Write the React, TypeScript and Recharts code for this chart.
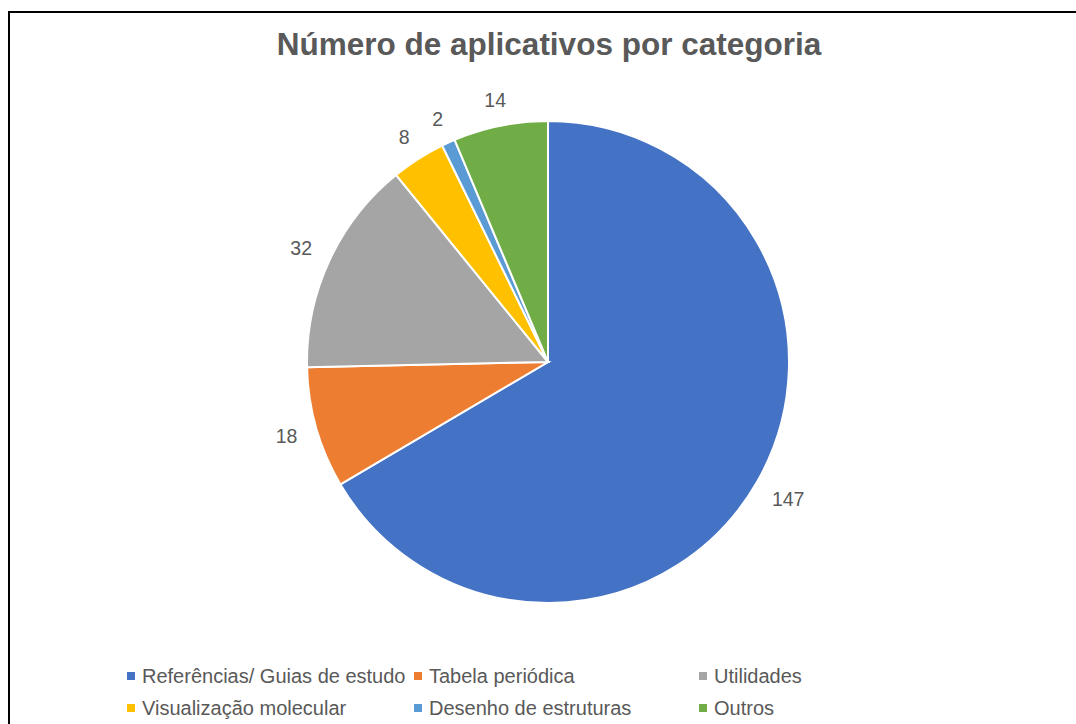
import React from "react";
import { PieChart, Pie, Cell, Legend } from "recharts";

const categories = [
  "Referências/ Guias de estudo",
  "Tabela periódica",
  "Utilidades",
  "Visualização molecular",
  "Desenho de estruturas",
  "Outros",
];
const counts = [147, 18, 32, 8, 2, 14];
const colors = ["#4472C4", "#ED7D31", "#A5A5A5", "#FFC000", "#5B9BD5", "#70AD47"];
const title = "Número de aplicativos por categoria";

const data = categories.map((name, i) => ({ name, value: counts[i] }));

const FONT = '"Liberation Sans", Arial, Helvetica, sans-serif';
const TEXT = "#595959";
const RADIAN = Math.PI / 180;
const LABEL_SIZE = 19.5;

const renderLabel = (props: any) => {
  const { cx, cy, midAngle, outerRadius, value } = props;
  const c = Math.cos(-midAngle * RADIAN);
  const s = Math.sin(-midAngle * RADIAN);
  const hw = (String(value).length * 0.556 * LABEL_SIZE) / 2;
  const r = outerRadius + 19 + Math.abs(c) * hw + Math.abs(s) * 5;
  const x = cx + r * c;
  const y = cy + r * s;
  return (
    <text
      x={x}
      y={y}
      fill={TEXT}
      textAnchor="middle"
      dominantBaseline="central"
      fontFamily={FONT}
      fontSize={LABEL_SIZE}
    >
      {value}
    </text>
  );
};

const colX = [127, 414, 699];
const rowY = [668, 700];

const LegendContent = () => {
  return (
    <div style={{ position: "relative", width: 1076, height: 64 }}>
      {categories.map((name, i) => {
        const col = i % 3;
        const row = Math.floor(i / 3);
        return (
          <div
            key={name}
            style={{
              position: "absolute",
              left: colX[col],
              top: rowY[row] - 660,
              height: 16,
              display: "flex",
              alignItems: "center",
              whiteSpace: "nowrap",
            }}
          >
            <span
              style={{
                display: "inline-block",
                width: 8,
                height: 8,
                background: colors[i],
                marginRight: 7,
              }}
            />
            <span
              style={{
                fontFamily: FONT,
                fontSize: 20,
                color: TEXT,
                lineHeight: "16px",
              }}
            >
              {name}
            </span>
          </div>
        );
      })}
    </div>
  );
};

export default function App() {
  return (
    <div
      style={{
        position: "fixed",
        left: 0,
        top: 0,
        width: 1076,
        height: 724,
        overflow: "hidden",
        background: "#fff",
      }}
    >
      <div
        style={{
          position: "absolute",
          left: 8,
          top: 11,
          width: 1120,
          height: 800,
          border: "2px solid #000",
          boxSizing: "border-box",
        }}
      />
      <div
        style={{
          position: "absolute",
          left: 0,
          top: 28,
          width: 1098,
          textAlign: "center",
          fontFamily: FONT,
          fontWeight: "bold",
          fontSize: 31.5,
          lineHeight: "32px",
          color: TEXT,
          whiteSpace: "nowrap",
        }}
      >
        {title}
      </div>
      <div style={{ position: "absolute", left: 0, top: 0 }}>
        <PieChart width={1076} height={724} margin={{ top: 0, right: 0, bottom: 0, left: 0 }}>
          <Pie
            data={data}
            dataKey="value"
            nameKey="name"
            cx={548}
            cy={362}
            outerRadius={241}
            startAngle={90}
            endAngle={-270}
            stroke="#fff"
            strokeWidth={2}
            label={renderLabel}
            labelLine={false}
            isAnimationActive={false}
          >
            {data.map((d, i) => (
              <Cell key={d.name} fill={colors[i]} />
            ))}
          </Pie>
          <Legend
            content={<LegendContent />}
            wrapperStyle={{ position: "absolute", left: 0, top: 660, width: 1076, height: 64 }}
          />
        </PieChart>
      </div>
    </div>
  );
}
